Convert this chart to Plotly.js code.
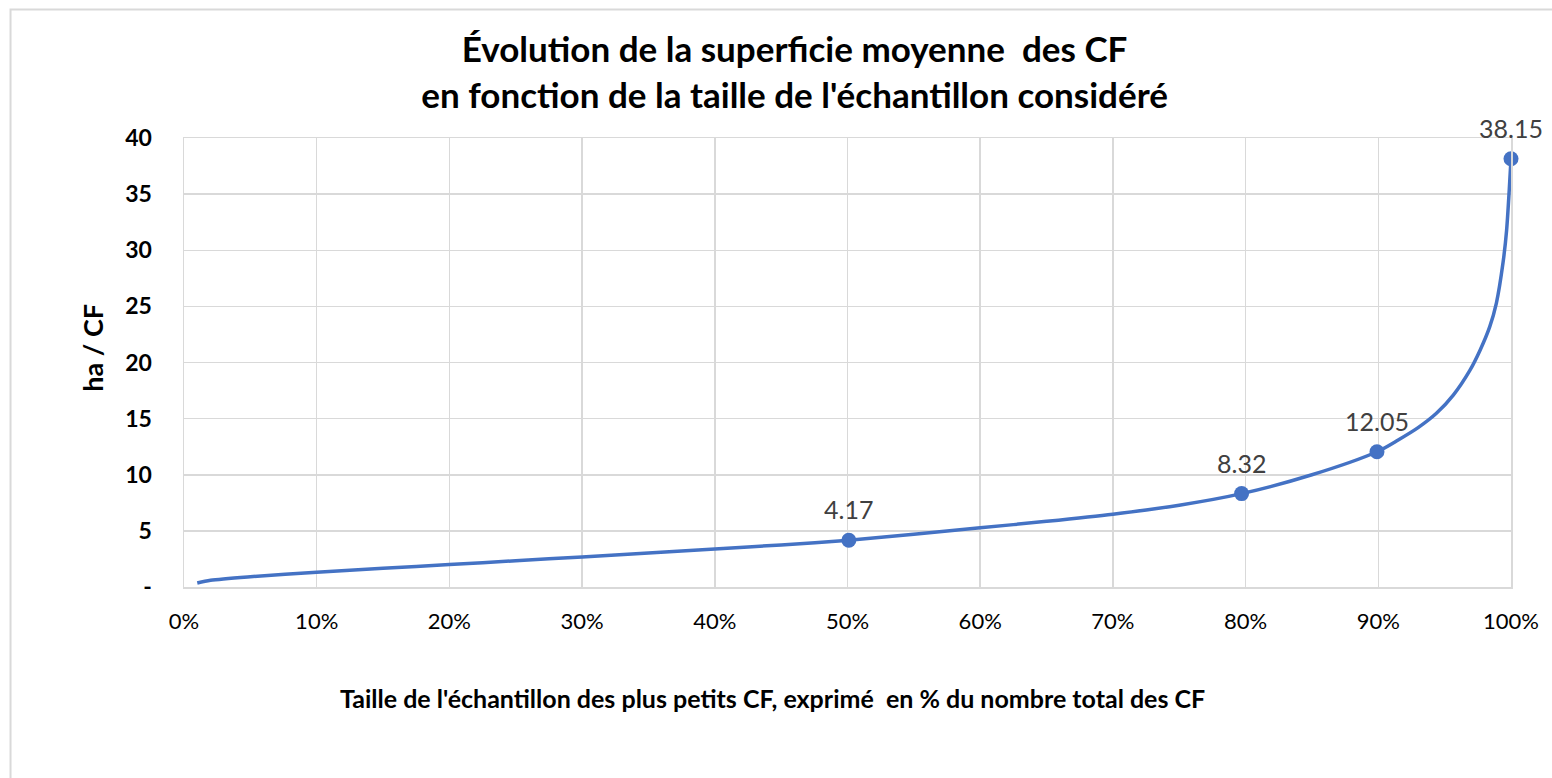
<!DOCTYPE html>
<html>
<head>
<meta charset="utf-8">
<script src="https://cdn.plot.ly/plotly-3.0.1.min.js"></script>
<style>
html,body{margin:0;padding:0;background:#fff;}
#chart{width:1552px;height:778px;}
</style>
</head>
<body>
<div id="chart"></div>
<script>
// Curve: share of smallest CF (fraction) vs mean area (ha / CF)
const curveX = [0.01, 0.02, 0.05, 0.10, 0.15, 0.20, 0.25, 0.30, 0.35, 0.40, 0.45, 0.501, 0.55, 0.60, 0.65, 0.70, 0.75, 0.797, 0.85, 0.899, 0.915, 0.93, 0.944, 0.9565, 0.969, 0.9767, 0.984, 0.989, 0.994, 0.9967, 0.9987, 1.0];
const curveY = [0.36, 0.60, 0.92, 1.31, 1.67, 2.00, 2.34, 2.68, 3.03, 3.39, 3.75, 4.17, 4.70, 5.27, 5.85, 6.49, 7.29, 8.32, 10.0, 12.05, 13.1, 14.2, 15.5, 17.1, 19.3, 21.1, 23.2, 25.3, 28.9, 31.8, 35.4, 38.15];

// Labelled points
const markX = [0.501, 0.797, 0.899, 1.0];
const markY = [4.17, 8.32, 12.05, 38.15];
const markLabels = ["4.17", "8.32", "12.05", "38.15"];

// Axis ticks
const yTickVals = [0, 5, 10, 15, 20, 25, 30, 35, 40];
const yTickText = ["-", "5", "10", "15", "20", "25", "30", "35", "40"];

const titleText = "Évolution de la superficie moyenne  des CF<br>en fonction de la taille de l'échantillon considéré";
const xTitle = "Taille de l'échantillon des plus petits CF, exprimé  en % du nombre total des CF";
const yTitle = "ha / CF";

const FONT = "Lato, 'Open Sans', sans-serif";
const BLUE = "#4472C4";
const GRID = "#d9d9d9";

const traces = [
  {
    x: curveX, y: curveY, type: "scatter", mode: "lines",
    line: {color: BLUE, width: 3.5, shape: "spline", smoothing: 0.8},
    hoverinfo: "skip", cliponaxis: false
  },
  {
    x: markX, y: markY, type: "scatter", mode: "markers",
    marker: {color: BLUE, size: 15},
    hoverinfo: "skip", cliponaxis: false
  }
];

const annotations = markX.map((xv, i) => ({
  x: xv, y: markY[i], xref: "x", yref: "y",
  text: markLabels[i], showarrow: false,
  yshift: 31, font: {family: FONT, size: 25, color: "#404040"}
}));

annotations.push({
  xref: "paper", yref: "paper", x: 0.4434, y: -0.248,
  xanchor: "center", yanchor: "middle",
  text: "<b>" + xTitle + "</b>", showarrow: false,
  font: {family: FONT, size: 25, color: "#000"}
});
annotations.push({
  xref: "paper", yref: "paper", x: -0.0689, y: 0.532,
  xanchor: "center", yanchor: "middle",
  text: "<b>" + yTitle + "</b>", showarrow: false, textangle: -90,
  font: {family: FONT, size: 27, color: "#000"}
});

const layout = {
  width: 1552, height: 778,
  margin: {l: 183.5, r: 41.3, t: 138.3, b: 191.3},
  paper_bgcolor: "#fff", plot_bgcolor: "#fff",
  showlegend: false,
  title: {
    text: "<b>" + titleText + "</b>",
    xref: "container", yref: "container",
    x: 0.512, xanchor: "center", y: 1 - 62/778, yanchor: "middle",
    font: {family: FONT, size: 35, color: "#000"}
  },
  xaxis: {
    range: [0, 1], dtick: 0.1, tick0: 0, tickformat: ".0%",
    showgrid: true, gridcolor: GRID, gridwidth: 1.5,
    showline: true, linecolor: GRID, linewidth: 1.5, mirror: true,
    zeroline: false, ticks: "", ticklabelstandoff: 14,
    tickfont: {family: FONT, size: 22, color: "#000"}
  },
  yaxis: {
    range: [0, 40], tickvals: yTickVals, ticktext: yTickText,
    showgrid: true, gridcolor: GRID, gridwidth: 1.5,
    showline: true, linecolor: GRID, linewidth: 1.5, mirror: true,
    zeroline: false, ticks: "", ticklabelstandoff: 26,
    tickfont: {family: FONT, size: 23, color: "#000", weight: "bold"}
  },
  shapes: [{
    type: "rect", xref: "paper", yref: "paper",
    x0: (10 - 183.5) / 1327.2, x1: 1.05,
    y0: -0.5, y1: (586.7 - 10) / 448.4,
    line: {color: GRID, width: 2}, fillcolor: "rgba(0,0,0,0)", layer: "below"
  }],
  annotations: annotations
};

Plotly.newPlot("chart", traces, layout, {displayModeBar: false, staticPlot: true});
</script>
</body>
</html>
